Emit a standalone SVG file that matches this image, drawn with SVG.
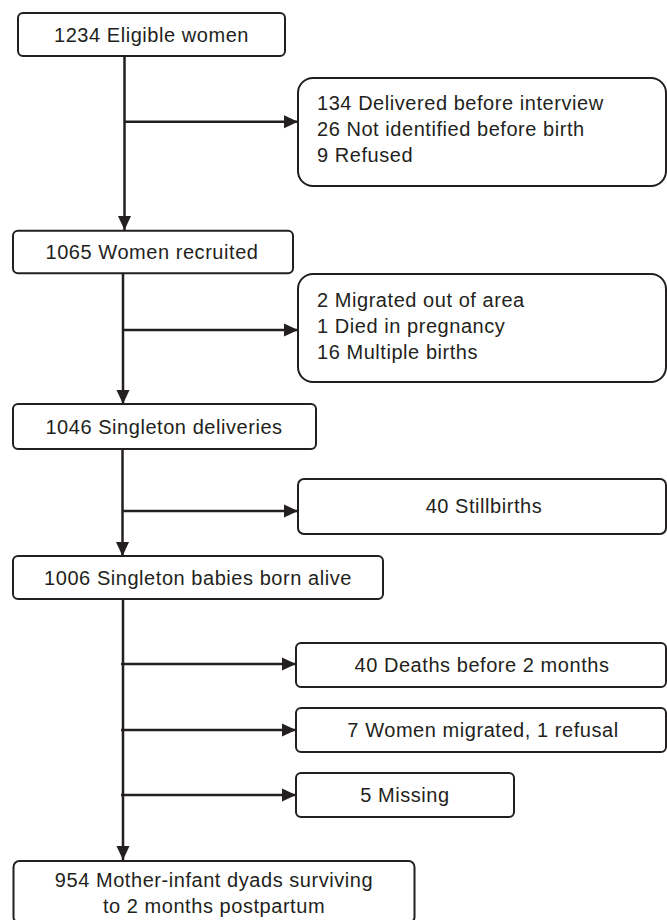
<svg xmlns="http://www.w3.org/2000/svg" width="667" height="920" viewBox="0 0 667 920">
<style>
.box{fill:#fff;stroke:#231f20;stroke-width:2}
.t{font-family:"Liberation Sans",Arial,Helvetica,sans-serif;font-size:20px;letter-spacing:0.55px;fill:#231f20}
.c{text-anchor:middle}
.ln{fill:none;stroke:#231f20;stroke-width:2.5}
</style>
<defs>
<marker id="ah" markerUnits="userSpaceOnUse" markerWidth="14" markerHeight="14" refX="14" refY="7" orient="auto">
<path d="M0,0.5 L14,7 L0,13.5 Z" fill="#231f20"/>
</marker>
</defs>
<rect width="667" height="920" fill="#fff"/>
<g id="connectors">
<path class="ln" d="M124.5,56 V230" marker-end="url(#ah)"/>
<path class="ln" d="M124.5,121.7 H298" marker-end="url(#ah)"/>
<path class="ln" d="M123,273 V404" marker-end="url(#ah)"/>
<path class="ln" d="M123,330 H298" marker-end="url(#ah)"/>
<path class="ln" d="M122.5,449 V556" marker-end="url(#ah)"/>
<path class="ln" d="M122.5,511 H298" marker-end="url(#ah)"/>
<path class="ln" d="M123,599 V860" marker-end="url(#ah)"/>
<path class="ln" d="M121,664 H296" marker-end="url(#ah)"/>
<path class="ln" d="M121,730 H296" marker-end="url(#ah)"/>
<path class="ln" d="M121,795 H296" marker-end="url(#ah)"/>
</g>
<g id="n1"><rect class="box" x="18" y="13" width="267" height="43" rx="5"/><text class="t c" x="151.5" y="42">1234 Eligible women</text></g>
<g id="r1"><rect class="box" x="298" y="78" width="368" height="108" rx="15"/>
<text class="t" x="317" y="110">134 Delivered before interview</text>
<text class="t" x="317" y="135.5">26 Not identified before birth</text>
<text class="t" x="317" y="161.5">9 Refused</text></g>
<g id="n2"><rect class="box" x="13" y="230.7" width="280" height="42.5" rx="5"/><text class="t c" x="152" y="259">1065 Women recruited</text></g>
<g id="r2"><rect class="box" x="298" y="274" width="368" height="108" rx="15"/>
<text class="t" x="317" y="307">2 Migrated out of area</text>
<text class="t" x="317" y="333">1 Died in pregnancy</text>
<text class="t" x="317" y="359">16 Multiple births</text></g>
<g id="n3"><rect class="box" x="13" y="404" width="303" height="45" rx="5"/><text class="t c" x="164" y="434">1046 Singleton deliveries</text></g>
<g id="r3"><rect class="box" x="298" y="479" width="368" height="55" rx="6"/><text class="t c" x="484" y="513">40 Stillbirths</text></g>
<g id="n4"><rect class="box" x="13" y="556" width="370" height="43" rx="5"/><text class="t c" x="198" y="585">1006 Singleton babies born alive</text></g>
<g id="r4"><rect class="box" x="296" y="643" width="370" height="44" rx="5"/><text class="t c" x="482" y="672">40 Deaths before 2 months</text></g>
<g id="r5"><rect class="box" x="296" y="708" width="370" height="44" rx="5"/><text class="t c" x="483" y="737">7 Women migrated, 1 refusal</text></g>
<g id="r6"><rect class="box" x="296" y="773" width="218" height="44" rx="5"/><text class="t c" x="405" y="802">5 Missing</text></g>
<g id="n5"><rect class="box" x="13.5" y="861" width="401" height="62" rx="6"/>
<text class="t c" x="214" y="887">954 Mother-infant dyads surviving</text>
<text class="t c" x="214" y="912.5">to 2 months postpartum</text></g>
</svg>
